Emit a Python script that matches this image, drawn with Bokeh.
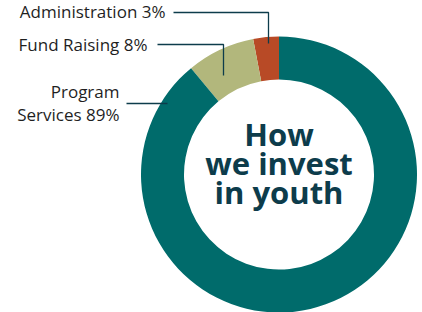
import numpy as np
from bokeh.plotting import figure
from bokeh.models import Range1d, ColumnDataSource
from bokeh.core.properties import value
from bokeh.embed import file_html
from bokeh.resources import INLINE

# ---- data ----
categories = ["Administration", "Fund Raising", "Program Services"]
shares = [3, 8, 89]
colors = ["#B84A26", "#B2B77C", "#006B6B"]
label_lines = [["Administration 3%"], ["Fund Raising 8%"], ["Program", "Services 89%"]]
center_title = ["How", "we invest", "in youth"]

# ---- layout (image pixel coords, y measured from top) ----
W, H = 422, 312
IMG_H = 312
def Y(img_y):
    return IMG_H - img_y

cx, cy = 278.5, Y(174)
r_out, r_in = 138, 95

fracs = np.array(shares, dtype=float) / sum(shares)
starts = np.pi / 2 + 2 * np.pi * np.concatenate([[0], np.cumsum(fracs)[:-1]])
ends = np.pi / 2 + 2 * np.pi * np.cumsum(fracs)

p = figure(width=W, height=H, output_backend="svg", toolbar_location=None,
           x_range=Range1d(0, W), y_range=Range1d(0, H),
           match_aspect=False)
p.axis.visible = False
p.grid.visible = False
p.outline_line_color = None
p.background_fill_color = "white"
p.border_fill_color = "white"
p.min_border = 0

src = ColumnDataSource(dict(cat=categories, start=starts, end=ends, color=colors))
p.annular_wedge(x=cx, y=cy, inner_radius=r_in, outer_radius=r_out,
                start_angle="start", end_angle="end", direction="anticlock",
                fill_color="color", line_color=None, source=src)

navy = "#0D3C4B"
# leader lines
leaders = [
    ([173, 268, 268], [12, 12, 43]),
    ([157, 223, 223], [44, 44, 75]),
    ([126, 167], [103, 103]),
]
for xs, ys in leaders:
    p.line(xs, [Y(v) for v in ys], line_color=navy, line_width=1.3)

# labels
font = value("Open Sans")
lab_x = [165, 147, 119]
lab_y = [[11], [44], [91, 114]]
for lines, lx, lys in zip(label_lines, lab_x, lab_y):
    for t, ly in zip(lines, lys):
        p.text(x=[lx], y=[Y(ly)], text=[t], text_align="right", text_baseline="middle",
               text_font=font, text_font_size="17px", text_color="#1f1f1f")

# center title
cy_mid = [133, 162, 191]
for t, b in zip(center_title, cy_mid):
    p.text(x=[cx], y=[Y(b)], text=[t], text_align="center", text_baseline="middle",
           text_font=font, text_font_style="bold", text_font_size="31px", text_color=navy)

open("out.html", "w").write(file_html(p, INLINE))
